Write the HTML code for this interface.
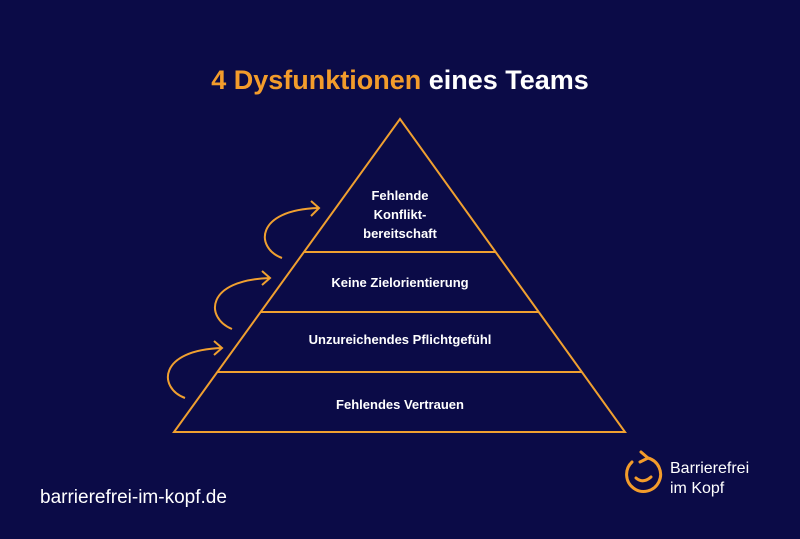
<!DOCTYPE html>
<html><head><meta charset="utf-8"><style>
body{margin:0;width:800px;height:534px;background:#0b0b47;overflow:hidden;font-family:"Liberation Sans",sans-serif}
</style></head><body>
<svg width="800" height="534" xmlns="http://www.w3.org/2000/svg">
<rect width="800" height="534" fill="#0b0b47"/>
<text x="400" y="89" text-anchor="middle" font-size="27" font-weight="bold" fill="#fff" font-family="Liberation Sans"><tspan fill="#f39c2b">4 Dysfunktionen</tspan> eines Teams</text>
<g stroke="#f0a030" stroke-width="2" fill="none">
<polygon points="400,119 625,432 174,432"/>
<line x1="304" y1="252" x2="496" y2="252"/>
<line x1="261" y1="312" x2="539" y2="312"/>
<line x1="217" y1="372" x2="582" y2="372"/>
<path d="M282,258 C255,248 255,210 318,208"/>
<path d="M311,201 L319,208 L311,216"/>
<path d="M232,329 C205,318 205,280 270,278"/>
<path d="M262,271 L270,278 L262,285"/>
<path d="M185,398 C158,388 158,350 222,348"/>
<path d="M214,341 L222,348 L214,355"/>
</g>
<g fill="#fff" font-size="13" font-weight="bold" text-anchor="middle" font-family="Liberation Sans">
<text x="400" y="200">Fehlende</text>
<text x="400" y="219">Konflikt-</text>
<text x="400" y="238">bereitschaft</text>
<text x="400" y="287">Keine Zielorientierung</text>
<text x="400" y="344">Unzureichendes Pflichtgefühl</text>
<text x="400" y="409">Fehlendes Vertrauen</text>
</g>
<text x="40" y="503" font-size="19" fill="#fff" font-family="Liberation Sans">barrierefrei-im-kopf.de</text>
<g stroke="#f39c2b" stroke-width="3" fill="none" stroke-linecap="round">
<path d="M632,462 A17,17 0 1 0 648,458"/>
<path d="M641,452 L648,458 L640,462"/>
<path d="M636,478 Q643,484 651,477"/>
</g>
<text x="670" y="473" font-size="16" fill="#fff" font-family="Liberation Sans">Barrierefrei</text>
<text x="670" y="493" font-size="16" fill="#fff" font-family="Liberation Sans">im Kopf</text>
</svg>
</body></html>
